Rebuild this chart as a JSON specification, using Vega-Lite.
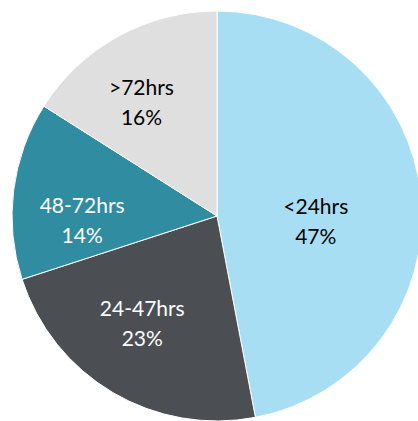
{
  "$schema": "https://vega.github.io/schema/vega-lite/v6.json",
  "width": 400,
  "height": 406,
  "padding": {"left": 10, "top": 9, "right": 8, "bottom": 6},
  "background": "white",
  "view": {"stroke": null},
  "data": {"values": [
    {"cat": "<24hrs", "share": 0.47, "ord": 1},
    {"cat": "24-47hrs", "share": 0.23, "ord": 2},
    {"cat": "48-72hrs", "share": 0.14, "ord": 3},
    {"cat": ">72hrs", "share": 0.16, "ord": 4}
  ]},
  "encoding": {
    "theta": {"field": "share", "type": "quantitative", "stack": true},
    "order": {"field": "ord", "type": "quantitative"}
  },
  "layer": [
    {
      "mark": {"type": "arc", "outerRadius": 205, "stroke": "#ffffff", "strokeWidth": 1},
      "encoding": {
        "color": {"field": "cat", "type": "nominal", "legend": null,
          "scale": {"domain": ["<24hrs", "24-47hrs", "48-72hrs", ">72hrs"],
                    "range": ["#a8def4", "#4b4f54", "#2f8ca1", "#dfdfdf"]}}
      }
    },
    {
      "mark": {"type": "text", "font": "Lato", "fontSize": 21, "dy": -15,
        "radius": {"expr": "datum.cat == '<24hrs' ? 99 : datum.cat == '24-47hrs' ? 132 : 135"},
        "thetaOffset": {"expr": "datum.cat == '<24hrs' ? 0.16 : datum.cat == '24-47hrs' ? 0.068 : datum.cat == '48-72hrs' ? -0.17 : -0.091"}},
      "encoding": {
        "text": {"field": "cat", "type": "nominal"},
        "color": {"condition": {"test": "datum.cat == '<24hrs' || datum.cat == '>72hrs'", "value": "#000000"}, "value": "#ffffff"}
      }
    },
    {
      "mark": {"type": "text", "font": "Lato", "fontSize": 21, "dy": 15,
        "radius": {"expr": "datum.cat == '<24hrs' ? 99 : datum.cat == '24-47hrs' ? 132 : 135"},
        "thetaOffset": {"expr": "datum.cat == '<24hrs' ? 0.16 : datum.cat == '24-47hrs' ? 0.068 : datum.cat == '48-72hrs' ? -0.17 : -0.091"}},
      "encoding": {
        "text": {"field": "share", "type": "quantitative", "format": ".0%"},
        "color": {"condition": {"test": "datum.cat == '<24hrs' || datum.cat == '>72hrs'", "value": "#000000"}, "value": "#ffffff"}
      }
    }
  ]
}
